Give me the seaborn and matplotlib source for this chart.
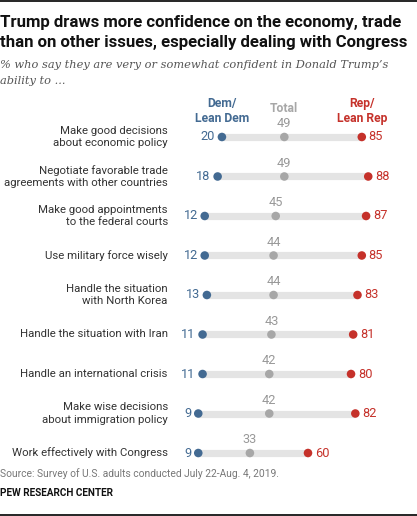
import pandas as pd
import matplotlib.pyplot as plt
import seaborn as sns

# Data
items = ['Make good decisions\nabout economic policy',
         'Negotiate favorable trade\nagreements with other countries',
         'Make good appointments\nto the federal courts',
         'Use military force wisely',
         'Handle the situation\nwith North Korea',
         'Handle the situation with Iran',
         'Handle an international crisis',
         'Make wise decisions\nabout immigration policy',
         'Work effectively with Congress']
dem = [20, 18, 12, 12, 13, 11, 11, 9, 9]
total = [49, 49, 45, 44, 44, 43, 42, 42, 33]
rep = [85, 88, 87, 85, 83, 81, 80, 82, 60]

DEM_C = '#436a92'
TOT_C = '#a7a7a7'
REP_C = '#c5312a'
BAND_C = '#e4e4e4'

df = pd.DataFrame({'item': items, 'Dem': dem, 'Total': total, 'Rep': rep})
df['row'] = range(len(df))
long = df.melt(id_vars=['item', 'row'], value_vars=['Dem', 'Total', 'Rep'],
               var_name='group', value_name='pct')

sns.set_style('white')
plt.rcParams['font.family'] = ['Roboto', 'DejaVu Sans']

fig = plt.figure(figsize=(4.17, 5.16), dpi=100)
ax = fig.add_axes([0.429, 0.0838, 0.516, 0.689])

ax.hlines(df['row'], df['Dem'], df['Rep'], color=BAND_C, linewidth=5.2, zorder=1)
sns.scatterplot(data=long, x='pct', y='row', hue='group',
                palette={'Dem': DEM_C, 'Total': TOT_C, 'Rep': REP_C},
                s=38, edgecolor='none', legend=False, ax=ax, zorder=3)

ax.set_xlim(0, 100)
ax.set_ylim(8.5, -0.5)
ax.axis('off')

for _, r in df.iterrows():
    y = r['row']
    ax.annotate(str(r['Dem']), (r['Dem'], y), xytext=(-5, 0), textcoords='offset points',
                ha='right', va='center', color=DEM_C, fontsize=9.2)
    ax.annotate(str(r['Rep']), (r['Rep'], y), xytext=(5, 0), textcoords='offset points',
                ha='left', va='center', color=REP_C, fontsize=9.2)
    ax.annotate(str(r['Total']), (r['Total'], y), xytext=(0, 9.5), textcoords='offset points',
                ha='center', va='center', color='#999999', fontsize=9.2)
    ax.annotate(r['item'], (0, y), xytext=(-8, 0), textcoords='offset points',
                ha='right', va='center', color='#333333', fontsize=8.2,
                linespacing=1.3, annotation_clip=False)

# column headers above first row
ax.annotate('Dem/\nLean Dem', (dem[0], 0), xytext=(0, 19), textcoords='offset points',
            ha='center', va='center', color=DEM_C, fontsize=8.7, fontweight='bold',
            linespacing=1.2)
ax.annotate('Total', (total[0], 0), xytext=(0, 20.5), textcoords='offset points',
            ha='center', va='center', color=TOT_C, fontsize=8.7, fontweight='bold')
ax.annotate('Rep/\nLean Rep', (rep[0], 0), xytext=(0, 19), textcoords='offset points',
            ha='center', va='center', color=REP_C, fontsize=8.7, fontweight='bold',
            linespacing=1.2)

fig.text(0.0, 1 - 22 / 516, 'Trump draws more confidence on the economy, trade',
         fontsize=12.1, fontweight='bold', color='#111111', va='center')
fig.text(0.0, 1 - 42 / 516, 'than on other issues, especially dealing with Congress',
         fontsize=12.1, fontweight='bold', color='#111111', va='center')
fig.text(0.0, 1 - 65 / 516, "% who say they are very or somewhat confident in Donald Trump\u2019s",
         fontsize=8.2, style='italic', color='#555555', va='center', family='DejaVu Serif')
fig.text(0.0, 1 - 81 / 516, 'ability to ...',
         fontsize=8.2, style='italic', color='#555555', va='center', family='DejaVu Serif')
fig.text(0.0, 1 - 474 / 516, 'Source: Survey of U.S. adults conducted July 22-Aug. 4, 2019.',
         fontsize=7.4, color='#777777', va='center')
fig.text(0.0, 1 - 493 / 516, 'PEW RESEARCH CENTER',
         fontsize=7.2, fontweight='bold', color='#111111', va='center')

# thin black rules at top and bottom
fig.add_artist(plt.Line2D([0, 1], [0.998, 0.998], color='black', linewidth=1.2))
fig.add_artist(plt.Line2D([0, 1], [0.002, 0.002], color='black', linewidth=1.2))

fig.savefig('out.png', dpi=100)
